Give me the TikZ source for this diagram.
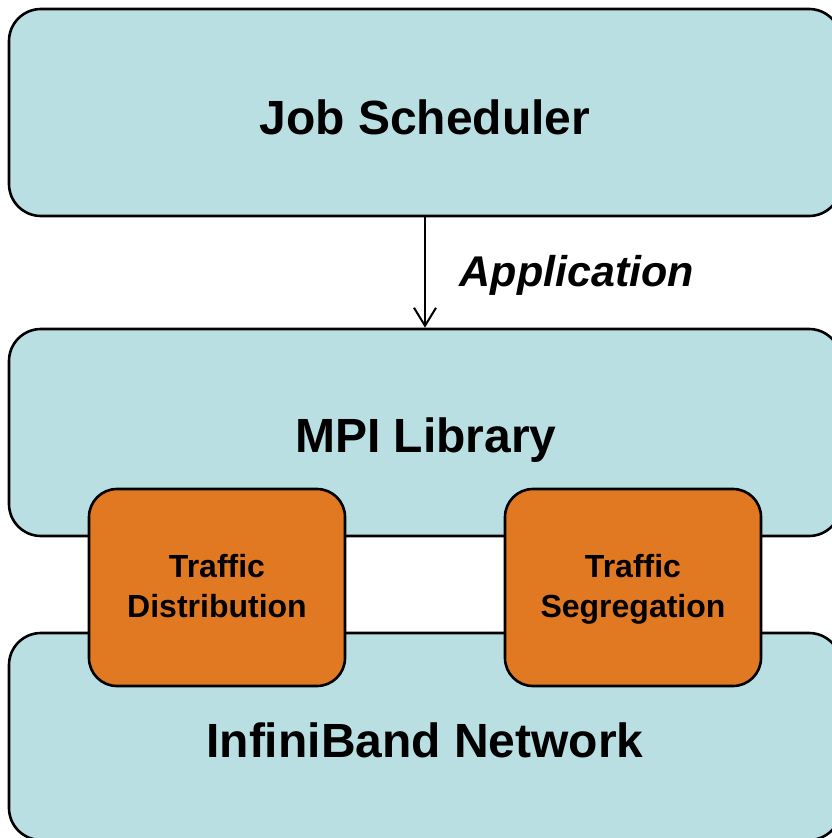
\documentclass[tikz,border=0pt]{standalone}
\usepackage{fontspec}
\setmainfont{Liberation Sans}
\usetikzlibrary{arrows.meta}
\definecolor{layerblue}{RGB}{186,223,227}
\definecolor{moduleorange}{RGB}{225,120,34}
\begin{document}
\begin{tikzpicture}[x=1pt,y=-1pt,
  layer/.style={draw=black, line width=2.6pt, fill=layerblue, rounded corners=32pt,
    minimum width=832pt, minimum height=207pt, inner sep=0pt},
  module/.style={draw=black, line width=2.6pt, fill=moduleorange, rounded corners=28pt,
    minimum width=256pt, minimum height=197pt, inner sep=0pt},
  bigtext/.style={anchor=base, inner sep=0pt, font=\fontsize{48}{58}\selectfont\bfseries},
  smalltext/.style={anchor=base, inner sep=0pt, font=\fontsize{32}{40}\selectfont\bfseries},
  flowtext/.style={anchor=base, inner sep=0pt, font=\fontsize{43}{52}\selectfont\bfseries\itshape}]
\useasboundingbox (0,0) rectangle (832,838);
\clip (0,0) rectangle (832,838);

% three stacked layers
\node[layer] (js)  at (425,112.5) {};
\node[layer] (mpi) at (425,432.5) {};
\node[layer] (ib)  at (425,736.5) {};

% modules bridging the MPI library and the network
\node[module] (td) at (217,587.5) {};
\node[module] (ts) at (633,587.5) {};

% labels
\node[bigtext] (jslabel)  at (425,134) {Job Scheduler};
\node[bigtext] (mpilabel) at (426,452) {MPI Library};
\node[bigtext] (iblabel)  at (425,757) {InfiniBand Network};
\node[smalltext] (tdlabelA) at (217,577) {Traffic};
\node[smalltext] (tdlabelB) at (217,617) {Distribution};
\node[smalltext] (tslabelA) at (633,577) {Traffic};
\node[smalltext] (tslabelB) at (633,617) {Segregation};
\node[flowtext] (app) at (577,286) {Application};

% job handed to the MPI library
\draw[line width=2pt, -{Straight Barb[length=18pt,width=22pt,line width=2pt]}]
  (js.south) -- (mpi.north);
\end{tikzpicture}
\end{document}
